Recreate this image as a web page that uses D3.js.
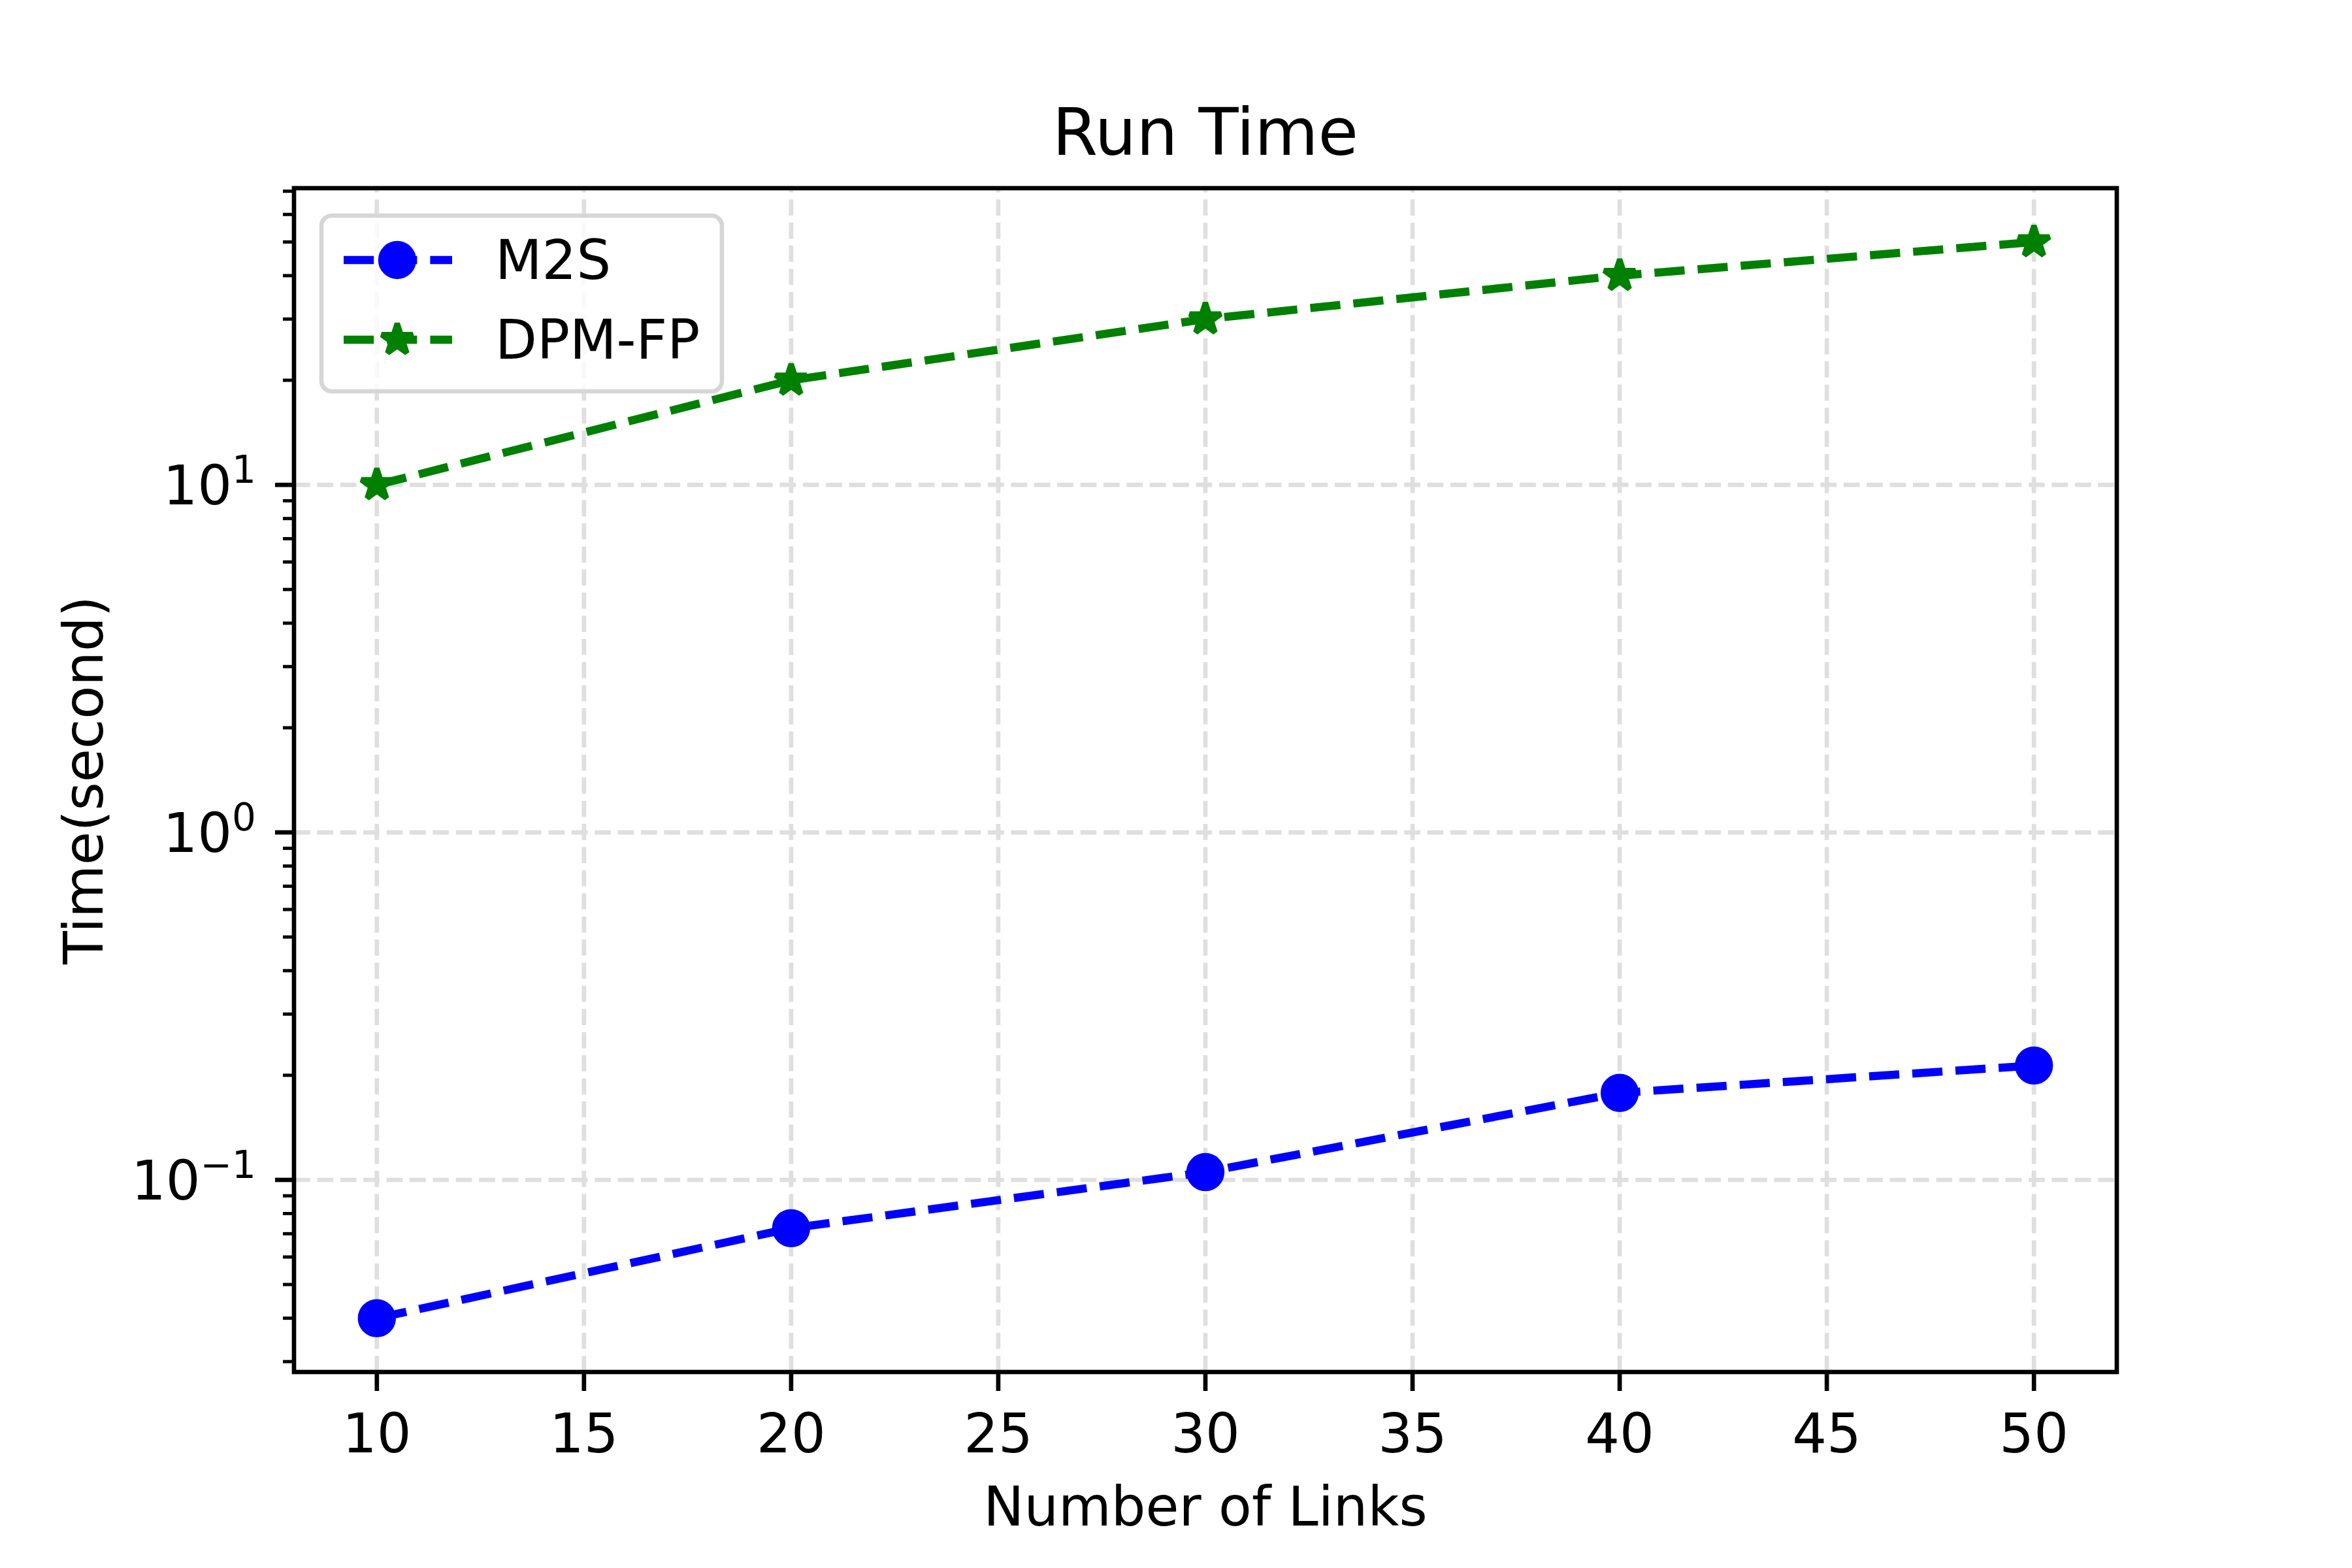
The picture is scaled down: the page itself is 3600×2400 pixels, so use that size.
<!DOCTYPE html>
<html>
<head>
<meta charset="utf-8">
<script src="https://cdn.jsdelivr.net/npm/d3@7"></script>
<style>
  html, body { margin: 0; padding: 0; background: #fff; }
  svg { display: block; }
</style>
</head>
<body>
<script>
// ---- data ----
const links = [10, 20, 30, 40, 50];
const m2s = [0.040, 0.0726, 0.1053, 0.178, 0.2134];
const dpmfp = [10, 20, 30, 40, 50];
const seriesNames = ["M2S", "DPM-FP"];
const seriesColors = ["#0000ff", "#008000"];
const xTicks = [10, 15, 20, 25, 30, 35, 40, 45, 50];
const yMajorExps = [-1, 0, 1];
const titleText = "Run Time";
const xLabelText = "Number of Links";
const yLabelText = "Time(second)";

// ---- layout ----
const W = 3600, H = 2400;
const L = 450, R = 3240, T = 288, B = 2100;
const FONT = "DejaVu Sans, Liberation Sans, sans-serif";
const fs = 83;

const svg = d3.select("body").append("svg").attr("width", W).attr("height", H)
  .attr("font-family", FONT);
svg.append("rect").attr("width", W).attr("height", H).attr("fill", "#fff");

// x domain with 5% margins
const xMin = d3.min(links), xMax = d3.max(links);
const xPad = (xMax - xMin) * 0.05;
const x = d3.scaleLinear().domain([xMin - xPad, xMax + xPad]).range([L, R]);

// log y domain with 5% margins in log space
const allY = m2s.concat(dpmfp);
const lo = Math.log10(d3.min(allY)), hi = Math.log10(d3.max(allY));
const lp = (hi - lo) * 0.05;
const y = d3.scaleLog().domain([Math.pow(10, lo - lp), Math.pow(10, hi + lp)]).range([B, T]);

const gridColor = "#dfdfdf";
const gridW = 6.67;
const gridDash = "24.7,10.7";

// grid
const grid = svg.append("g");
xTicks.forEach(t => {
  grid.append("line").attr("x1", x(t)).attr("x2", x(t)).attr("y1", B).attr("y2", T)
    .attr("stroke", gridColor).attr("stroke-width", gridW).attr("stroke-dasharray", gridDash);
});
yMajorExps.forEach(e => {
  const v = Math.pow(10, e);
  grid.append("line").attr("x1", L).attr("x2", R).attr("y1", y(v)).attr("y2", y(v))
    .attr("stroke", gridColor).attr("stroke-width", gridW).attr("stroke-dasharray", gridDash);
});

// lines
const lineW = 12.5;
const dash = "46.2,20";
const lineGen = d3.line().x(d => x(d[0])).y(d => y(d[1]));
const seriesData = [m2s, dpmfp];
seriesData.forEach((vals, i) => {
  const pts = links.map((l, j) => [l, vals[j]]);
  svg.append("path").attr("d", lineGen(pts)).attr("fill", "none")
    .attr("stroke", seriesColors[i]).attr("stroke-width", lineW)
    .attr("stroke-dasharray", dash).attr("stroke-linejoin", "round");
});

// markers
function starPath(r) {
  const ri = r * 0.381966;
  const pts = [];
  for (let k = 0; k < 10; k++) {
    const ang = -Math.PI / 2 + k * Math.PI / 5;
    const rr = k % 2 === 0 ? r : ri;
    pts.push([rr * Math.cos(ang), rr * Math.sin(ang)]);
  }
  return "M" + pts.map(p => p[0].toFixed(2) + "," + p[1].toFixed(2)).join("L") + "Z";
}
function drawMarker(g, kind, cx, cy, color) {
  if (kind === 0) {
    g.append("circle").attr("cx", cx).attr("cy", cy).attr("r", 25)
      .attr("fill", color).attr("stroke", color).attr("stroke-width", 8.33);
  } else {
    g.append("path").attr("d", starPath(25)).attr("transform", `translate(${cx},${cy})`)
      .attr("fill", color).attr("stroke", color).attr("stroke-width", 8.33)
      .attr("stroke-linejoin", "bevel");
  }
}
seriesData.forEach((vals, i) => {
  const g = svg.append("g");
  links.forEach((l, j) => drawMarker(g, i, x(l), y(vals[j]), seriesColors[i]));
});

// spines
const spineW = 6.67;
svg.append("rect").attr("x", L).attr("y", T).attr("width", R - L).attr("height", B - T)
  .attr("fill", "none").attr("stroke", "#000").attr("stroke-width", spineW)
  .attr("stroke-linejoin", "miter");

// x ticks
const majLen = 29;
xTicks.forEach(t => {
  svg.append("line").attr("x1", x(t)).attr("x2", x(t)).attr("y1", B).attr("y2", B + majLen)
    .attr("stroke", "#000").attr("stroke-width", spineW);
  svg.append("text").attr("x", x(t)).attr("y", 2223).attr("text-anchor", "middle")
    .attr("font-size", fs).attr("fill", "#000").text(t);
});

// y ticks (major)
const [d0, d1] = y.domain();
yMajorExps.forEach(e => {
  const v = Math.pow(10, e);
  const py = y(v);
  svg.append("line").attr("x1", L - majLen).attr("x2", L).attr("y1", py).attr("y2", py)
    .attr("stroke", "#000").attr("stroke-width", spineW);
  const t = svg.append("text").attr("x", 392).attr("y", py + 30).attr("text-anchor", "end")
    .attr("font-size", fs).attr("fill", "#000");
  t.append("tspan").text("10");
  t.append("tspan").attr("dy", -33).attr("font-size", 58)
    .text(e < 0 ? "\u2212" + Math.abs(e) : String(e));
});
// y minor ticks
for (let e = Math.floor(Math.log10(d0)); e <= Math.ceil(Math.log10(d1)); e++) {
  for (let m = 2; m <= 9; m++) {
    const v = m * Math.pow(10, e);
    if (v < d0 || v > d1) continue;
    svg.append("line").attr("x1", L - 17).attr("x2", L).attr("y1", y(v)).attr("y2", y(v))
      .attr("stroke", "#000").attr("stroke-width", 5);
  }
}

// labels & title
svg.append("text").attr("x", (L + R) / 2).attr("y", 237).attr("text-anchor", "middle")
  .attr("font-size", 100).attr("fill", "#000").text(titleText);
svg.append("text").attr("x", (L + R) / 2).attr("y", 2335).attr("text-anchor", "middle")
  .attr("font-size", fs).attr("fill", "#000").text(xLabelText);
svg.append("text").attr("transform", `translate(157,${(T + B) / 2}) rotate(-90)`)
  .attr("text-anchor", "middle").attr("font-size", fs).attr("fill", "#000").text(yLabelText);

// legend
const lg = svg.append("g");
lg.append("rect").attr("x", 492).attr("y", 330).attr("width", 1105 - 492).attr("height", 599 - 330)
  .attr("rx", 16).attr("ry", 16).attr("fill", "#fff").attr("fill-opacity", 0.8)
  .attr("stroke", "#d6d6d6").attr("stroke-width", 6.67);
const rowsY = [398, 520];
seriesNames.forEach((name, i) => {
  const ry = rowsY[i];
  lg.append("line").attr("x1", 526).attr("x2", 692).attr("y1", ry).attr("y2", ry)
    .attr("stroke", seriesColors[i]).attr("stroke-width", lineW).attr("stroke-dasharray", dash);
  drawMarker(lg, i, 608, ry, seriesColors[i]);
  lg.append("text").attr("x", 758).attr("y", ry + 29).attr("font-size", fs)
    .attr("fill", "#000").text(name);
});
</script>
</body>
</html>
